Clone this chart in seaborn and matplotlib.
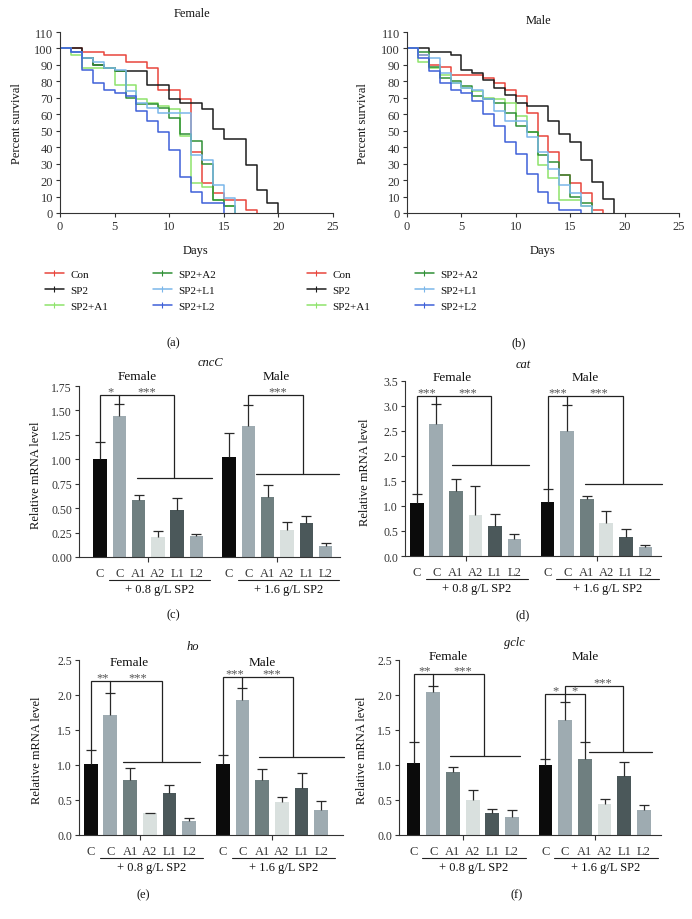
import numpy as np
import pandas as pd
import seaborn as sns
import matplotlib
matplotlib.use('Agg')
import matplotlib.pyplot as plt
from matplotlib.lines import Line2D
from matplotlib.ticker import FormatStrFormatter
from matplotlib.transforms import ScaledTranslation

# ---------------- dados: sobrevivencia (% por dia, dia 0, 1, 2 ...) ----------------
grupos = ['Con', 'SP2', 'SP2+A1', 'SP2+A2', 'SP2+L1', 'SP2+L2']
cores_grupos = ['#e8453c', '#1c1c1c', '#8ee36b', '#2f8f35', '#7ab6ea', '#3f60d8']

f_con = [100, 100, 98, 98, 96, 96, 92, 92, 88, 75, 75, 69, 37, 18, 12, 8, 8, 2, 0]
f_sp2 = [100, 100, 94, 90, 88, 86, 86, 86, 78, 78, 69, 67, 67, 63, 51, 45, 45, 29, 14, 6, 0]
f_a1 = [100, 96, 88, 88, 88, 78, 78, 69, 67, 65, 63, 47, 18, 16, 8, 4, 0]
f_a2 = [100, 98, 94, 90, 88, 86, 70, 66, 66, 64, 58, 48, 44, 30, 8, 4, 0]
f_l1 = [100, 98, 94, 92, 88, 87, 74, 67, 64, 61, 61, 61, 35, 32, 17, 9, 0]
f_l2 = [100, 98, 87, 79, 75, 73, 71, 62, 56, 49, 38, 22, 13, 6, 6, 0]

m_con = [100, 96, 90, 89, 84, 84, 84, 82, 79, 75, 71, 61, 47, 37, 23, 18, 12, 2, 0]
m_sp2 = [100, 100, 98, 98, 96, 87, 85, 81, 76, 72, 67, 65, 65, 56, 48, 43, 32, 19, 8.5, 0]
m_a1 = [100, 92, 88, 84, 79, 76, 74, 70, 69, 67, 59, 49, 29, 21, 8, 8, 4, 0]
m_a2 = [100, 98, 89, 82, 80, 77, 71, 69, 67, 61, 53, 49, 35, 31, 23, 10, 6, 0]
m_l1 = [100, 96, 94, 85, 79, 76, 75, 69, 62, 56, 56, 46, 37, 27, 17, 12, 4, 0]
m_l2 = [100, 94, 86, 79, 75, 73, 68, 60, 53, 43, 36, 24, 13, 6, 2, 2, 0]

# ---------------- dados: qPCR (media e desvio) ----------------
tratamentos = ['ctrl', 'sp2', 'a1', 'a2', 'l1', 'l2']
rotulos_x = ['C', 'C', 'A1', 'A2', 'L1', 'L2']
cores_barras = ['#0b0b0b', '#9eabb1', '#6f7f80', '#d9e0de', '#4b585a', '#9eabb1']

cncc_f = [1.00, 1.44, 0.58, 0.20, 0.48, 0.21]
cncc_f_sd = [0.18, 0.13, 0.05, 0.07, 0.12, 0.03]
cncc_m = [1.02, 1.34, 0.61, 0.28, 0.35, 0.11]
cncc_m_sd = [0.25, 0.22, 0.13, 0.08, 0.07, 0.03]

cat_f = [1.06, 2.64, 1.30, 0.83, 0.60, 0.34]
cat_f_sd = [0.18, 0.39, 0.24, 0.57, 0.24, 0.10]
cat_m = [1.08, 2.50, 1.15, 0.66, 0.38, 0.18]
cat_m_sd = [0.26, 0.52, 0.06, 0.25, 0.16, 0.04]

ho_f = [1.02, 1.72, 0.78, 0.31, 0.60, 0.20]
ho_f_sd = [0.19, 0.31, 0.18, 0.01, 0.12, 0.04]
ho_m = [1.01, 1.93, 0.78, 0.47, 0.67, 0.36]
ho_m_sd = [0.13, 0.17, 0.16, 0.07, 0.22, 0.13]

gclc_f = [1.03, 2.04, 0.90, 0.50, 0.32, 0.26]
gclc_f_sd = [0.30, 0.09, 0.07, 0.14, 0.05, 0.10]
gclc_m = [1.00, 1.65, 1.09, 0.45, 0.85, 0.36]
gclc_m_sd = [0.08, 0.25, 0.24, 0.06, 0.19, 0.07]

# ---------------- estilo ----------------
sns.set_style('ticks')
plt.rcParams['font.family'] = ['Liberation Serif', 'DejaVu Serif']
plt.rcParams['axes.edgecolor'] = '#333333'
plt.rcParams['xtick.color'] = '#333333'
plt.rcParams['ytick.color'] = '#333333'
plt.rcParams['text.color'] = '#111111'

W, H = 692, 920
fig = plt.figure(figsize=(W / 100, H / 100), dpi=100)


def eixo(x0, y0, x1, y1):
    # caixa em pixels (esq, topo, dir, base)
    return fig.add_axes([x0 / W, 1 - y1 / H, (x1 - x0) / W, (y1 - y0) / H])


def texto(x, y, s, **kw):
    fig.text(x / W, 1 - y / H, s, ha='center', va='center', **kw)


def desloc(ax, dy):
    return ax.get_xaxis_transform() + ScaledTranslation(0, -dy / 100, fig.dpi_scale_trans)


paleta = dict(zip(grupos, cores_grupos))


def painel_sobrevida(ax, series):
    linhas = []
    for g, vals in zip(grupos, series):
        for d, v in enumerate(vals):
            linhas.append((g, d, v))
    df = pd.DataFrame(linhas, columns=['grupo', 'dia', 'surv'])
    sns.lineplot(data=df, x='dia', y='surv', hue='grupo', hue_order=grupos, palette=paleta,
                 estimator=None, drawstyle='steps-post', lw=1.1, legend=False, ax=ax)
    ax.set_xlim(0, 25)
    ax.set_ylim(0, 110)
    ax.set_xticks(range(0, 26, 5))
    ax.set_yticks(range(0, 111, 10))
    ax.set_xlabel('')
    ax.set_ylabel('')
    ax.tick_params(labelsize=9, length=3, width=0.8, pad=2)
    sns.despine(ax=ax)


ax_a = eixo(60, 33, 333, 214)
painel_sobrevida(ax_a, [f_con, f_sp2, f_a1, f_a2, f_l1, f_l2])
ax_b = eixo(407, 33, 679, 214)
painel_sobrevida(ax_b, [m_con, m_sp2, m_a1, m_a2, m_l1, m_l2])

texto(192, 14, 'Female', fontsize=9)
texto(538, 21, 'Male', fontsize=9)
for xl in (17, 363):
    texto(xl, 124, 'Percent survival', fontsize=9, rotation=90)
texto(196, 251, 'Days', fontsize=9)
texto(543, 251, 'Days', fontsize=9)

alcas = [Line2D([], [], color=c, lw=1.1, marker='|', ms=4, mew=0.8) for c in cores_grupos]
for xl in (45, 307):
    fig.legend(alcas, grupos, loc='upper left', bbox_to_anchor=(xl / W, 1 - 270 / H), ncol=2,
               frameon=False, fontsize=8, handlelength=1.7, handletextpad=0.6,
               columnspacing=4.0, labelspacing=0.55, borderpad=0, borderaxespad=0)
texto(173, 343, '(a)', fontsize=9)
texto(519, 343, '(b)', fontsize=9)

# ---------------- barras ----------------
posicoes = np.r_[np.arange(6), np.arange(6) + 6.7]
pal_barras = dict(zip(tratamentos, cores_barras))


def painel_barras(ax, fm, fsd, mm, msd, ytop, ystep, fmt, xlim, linhas, estrelas):
    medias = np.array(fm + mm)
    sds = np.array(fsd + msd)
    df = pd.DataFrame({'pos': posicoes, 'media': medias, 'trat': tratamentos * 2})
    sns.barplot(data=df, x='pos', y='media', hue='trat', palette=pal_barras, native_scale=True,
                width=0.7, errorbar=None, legend=False, dodge=False, saturation=1,
                linewidth=0, ax=ax)
    eb = ax.errorbar(posicoes, medias, yerr=[np.zeros(len(sds)), sds], fmt='none',
                     ecolor='#2a2a2a', elinewidth=0.9, capsize=3.5, capthick=0.9)
    eb[1][0].set_visible(False)
    for seg in linhas:
        xs, ys = zip(*seg)
        ax.plot(xs, ys, color='#222222', lw=0.9, clip_on=False, solid_joinstyle='miter')
    for s, x, y in estrelas:
        ax.annotate(s, (x, y), xytext=(0, 0.5), textcoords='offset points', ha='center',
                    va='baseline', fontsize=9, color='#555555', annotation_clip=False)
    ax.set_xlim(*xlim)
    ax.set_ylim(0, ytop)
    ax.set_yticks(np.arange(0, ytop + 1e-9, ystep))
    ax.yaxis.set_major_formatter(FormatStrFormatter(fmt))
    ax.set_xticks(posicoes, rotulos_x * 2)
    ax.set_xticks([2.5, 9.2], minor=True)
    ax.tick_params(axis='x', which='major', length=0, pad=7, labelsize=9)
    ax.tick_params(axis='x', which='minor', length=3.5, width=0.8)
    ax.tick_params(axis='y', length=3, width=0.8, labelsize=8.5, pad=2)
    ax.set_xlabel('')
    ax.set_ylabel('')
    sns.despine(ax=ax)
    for i0, lab in ((1, '+ 0.8 g/L SP2'), (7, '+ 1.6 g/L SP2')):
        a, b = posicoes[i0] - 0.55, posicoes[i0 + 4] + 0.7
        ax.plot([a, b], [0, 0], color='#222222', lw=0.8, clip_on=False, transform=desloc(ax, 23))
        ax.text((a + b) / 2, 0, lab, ha='center', va='center', fontsize=9,
                transform=desloc(ax, 32))


ax_c = eixo(79, 387, 340, 558)
painel_barras(ax_c, cncc_f, cncc_f_sd, cncc_m, cncc_m_sd, 1.75, 0.25, '%.2f', (-1.09, 12.45),
              [[(0, 1.18), (0, 1.66), (3.82, 1.66), (3.82, 0.81)], [(1, 1.57), (1, 1.66)],
               [(1.9, 0.81), (5.8, 0.81)],
               [(7.7, 1.56), (7.7, 1.66), (10.55, 1.66), (10.55, 0.85)],
               [(8.07, 0.85), (12.41, 0.85)]],
              [('*', 0.52, 1.66), ('***', 2.4, 1.66), ('***', 9.2, 1.66)])

ax_d = eixo(405, 382, 661, 557)
painel_barras(ax_d, cat_f, cat_f_sd, cat_m, cat_m_sd, 3.5, 0.5, '%.1f', (-0.6, 12.5),
              [[(0, 1.24), (0, 3.2), (3.8, 3.2), (3.8, 1.83)], [(1, 3.03), (1, 3.2)],
               [(1.81, 1.83), (5.77, 1.83)],
               [(6.7, 1.34), (6.7, 3.2), (10.54, 3.2), (10.54, 1.45)], [(7.7, 3.02), (7.7, 3.2)],
               [(8.6, 1.45), (12.54, 1.45)]],
              [('***', 0.5, 3.2), ('***', 2.6, 3.2), ('***', 7.2, 3.2), ('***', 9.3, 3.2)])

ax_e = eixo(79, 661, 343, 836)
painel_barras(ax_e, ho_f, ho_f_sd, ho_m, ho_m_sd, 2.5, 0.5, '%.1f', (-0.59, 12.8),
              [[(0, 1.21), (0, 2.2), (3.64, 2.2), (3.64, 1.04)], [(1, 2.03), (1, 2.2)],
               [(1.66, 1.04), (5.53, 1.04)],
               [(6.7, 1.14), (6.7, 2.26), (10.28, 2.26), (10.28, 1.12)], [(7.7, 2.10), (7.7, 2.26)],
               [(8.55, 1.12), (12.87, 1.12)]],
              [('**', 0.6, 2.2), ('***', 2.4, 2.2), ('***', 7.3, 2.26), ('***', 9.2, 2.26)])

ax_f = eixo(399, 661, 661, 836)
painel_barras(ax_f, gclc_f, gclc_f_sd, gclc_m, gclc_m_sd, 2.5, 0.5, '%.1f', (-0.74, 12.57),
              [[(0, 1.33), (0, 2.3), (3.59, 2.3), (3.59, 1.13)], [(1, 2.13), (1, 2.3)],
               [(1.84, 1.13), (5.4, 1.13)],
               [(6.7, 1.08), (6.7, 2.02), (8.7, 2.02), (8.7, 1.33)],
               [(7.7, 1.90), (7.7, 2.13), (10.63, 2.13), (10.63, 1.18)],
               [(8.91, 1.18), (12.1, 1.18)]],
              [('**', 0.54, 2.3), ('***', 2.5, 2.3), ('*', 7.2, 2.02), ('*', 8.2, 2.02),
               ('***', 9.6, 2.13)])

# titulos e rotulos dos paineis de barras
texto(210, 363, 'cncC', fontsize=9, fontstyle='italic')
texto(137, 377, 'Female', fontsize=9.5)
texto(276, 377, 'Male', fontsize=9.5)
texto(36, 475, 'Relative mRNA level', fontsize=9, rotation=90)
texto(173, 615, '(c)', fontsize=9)

texto(523, 365, 'cat', fontsize=9, fontstyle='italic')
texto(452, 378, 'Female', fontsize=9.5)
texto(585, 378, 'Male', fontsize=9.5)
texto(365, 472, 'Relative mRNA level', fontsize=9, rotation=90)
texto(523, 615, '(d)', fontsize=9)

texto(193, 647, 'ho', fontsize=9, fontstyle='italic')
texto(129, 663, 'Female', fontsize=9.5)
texto(262, 663, 'Male', fontsize=9.5)
texto(37, 750, 'Relative mRNA level', fontsize=9, rotation=90)
texto(143, 895, '(e)', fontsize=9)

texto(514, 643, 'gclc', fontsize=9, fontstyle='italic')
texto(448, 657, 'Female', fontsize=9.5)
texto(585, 657, 'Male', fontsize=9.5)
texto(362, 750, 'Relative mRNA level', fontsize=9, rotation=90)
texto(517, 895, '(f)', fontsize=9)

fig.savefig('out.png', dpi=100)
